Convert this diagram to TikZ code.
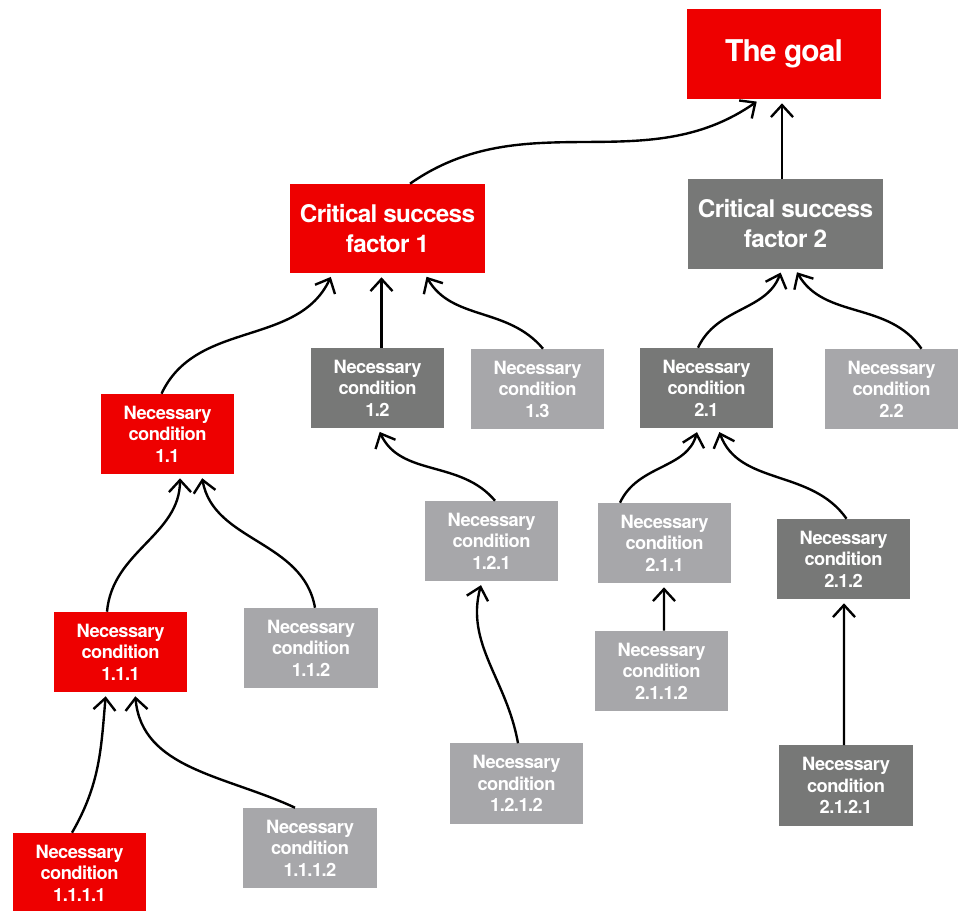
\documentclass[tikz,border=0pt]{standalone}
\usepackage{fontspec}
\setmainfont{TeX Gyre Heros}[LetterSpace=-3]
\usepackage{xcolor}
\definecolor{ncred}{HTML}{EE0000}
\definecolor{ncdark}{HTML}{777877}
\definecolor{nclight}{HTML}{A7A7AA}
\usetikzlibrary{arrows.meta, positioning}
\tikzstyle{cond} = [rectangle, text=white, align=center, inner sep=0pt, minimum width=3.325cm, minimum height=2cm, font=\bfseries\fontsize{13}{15.3}\selectfont]
\tikzstyle{factor} = [cond, minimum width=4.85cm, minimum height=2.225cm, font=\bfseries\fontsize{17.3}{21.3}\selectfont]
\tikzstyle{onpath} = [fill=ncred]
\tikzstyle{dark} = [fill=ncdark]
\tikzstyle{pale} = [fill=nclight]
\tikzstyle{line} = [draw, line width=1.7pt, -{Straight Barb[length=0.3cm,width=0.55cm]}, shorten >=0.1cm]

\begin{document}
\begin{tikzpicture}[x=0.025cm, y=0.025cm]
    \useasboundingbox (0,0) rectangle (961,-911);
    % Place nodes
     \node [factor, onpath, minimum height=2.25cm, font=\bfseries\fontsize{21.3}{25}\selectfont] (goal) at (784,-54) {The goal};
     \node [factor, onpath] (csf1) at (387.5,-228.5) {Critical success\\factor 1};
     \node [factor, dark] (csf2) at (785.5,-224) {Critical success\\factor 2};
     \node [cond, onpath] (nc11) at (167.5,-434) {Necessary\\condition\\1.1};
     \node [cond, dark] (nc12) at (377.5,-388) {Necessary\\condition\\1.2};
     \node [cond, pale] (nc13) at (537.5,-389) {Necessary\\condition\\1.3};
     \node [cond, dark] (nc21) at (706.5,-388) {Necessary\\condition\\2.1};
     \node [cond, pale] (nc22) at (891.5,-389) {Necessary\\condition\\2.2};
     \node [cond, pale] (nc121) at (491.5,-541) {Necessary\\condition\\1.2.1};
     \node [cond, pale] (nc211) at (664.5,-543) {Necessary\\condition\\2.1.1};
     \node [cond, dark] (nc212) at (843.5,-559) {Necessary\\condition\\2.1.2};
     \node [cond, onpath] (nc111) at (120.5,-652) {Necessary\\condition\\1.1.1};
     \node [cond, pale] (nc112) at (311,-648) {Necessary\\condition\\1.1.2};
     \node [cond, pale] (nc2112) at (661.5,-671) {Necessary\\condition\\2.1.1.2};
     \node [cond, pale] (nc1212) at (516.5,-783.5) {Necessary\\condition\\1.2.1.2};
     \node [cond, dark] (nc2121) at (846,-785.5) {Necessary\\condition\\2.1.2.1};
     \node [cond, onpath] (nc1111) at (79.5,-873) {Necessary\\condition\\1.1.1.1};
     \node [cond, pale] (nc1112) at (310,-848) {Necessary\\condition\\1.1.1.2};

    % Connect nodes
     \path [line] ([shift={(22.5,0)}]csf1.north) to[out=35, in=-145] ([shift={(-24,0)}]goal.south);
     \path [line] ([shift={(-3.5,0)}]csf2.north) -- ([shift={(-2,0)}]goal.south);
     \path [line] ([shift={(-6,0)}]nc11.north) to[out=65, in=-115] ([shift={(-55,0)}]csf1.south);
     \path [line] ([shift={(4,0)}]nc12.north) -- ([shift={(-6,0)}]csf1.south);
     \path [line] ([shift={(5.5,0)}]nc13.north) to[out=130, in=-60] ([shift={(37,0)}]csf1.south);
     \path [line] ([shift={(-8.5,0)}]nc21.north) to[out=65, in=-110] ([shift={(-3.5,0)}]csf2.south);
     \path [line] ([shift={(30,0)}]nc22.north) to[out=125, in=-60] ([shift={(9.5,0)}]csf2.south);
     \path [line] ([shift={(3.5,0)}]nc121.north) to[out=130, in=-65] ([shift={(0.5,0)}]nc12.south);
     \path [line] ([shift={(1.5,0)}]nc1212.north) to[out=100, in=-105] ([shift={(-9.5,0)}]nc121.south);
     \path [line] ([shift={(-44.5,0)}]nc211.north) to[out=65, in=-105] ([shift={(-8.5,0)}]nc21.south);
     \path [line] ([shift={(3,0)}]nc212.north) to[out=125, in=-70] ([shift={(11.5,0)}]nc21.south);
     \path [line] ([shift={(2.5,0)}]nc2112.north) -- ([shift={(-0.5,0)}]nc211.south);
     \path [line] ([shift={(-2,0)}]nc2121.north) -- ([shift={(0.5,0)}]nc212.south);
     \path [line] ([shift={(-13.5,0)}]nc111.north) to[out=85, in=-90] ([shift={(12.5,0)}]nc11.south);
     \path [line] ([shift={(4,0)}]nc112.north) to[out=100, in=-80] ([shift={(34,0)}]nc11.south);
     \path [line] ([shift={(-7.5,0)}]nc1111.north) to[out=60, in=-95] ([shift={(-14.5,0)}]nc111.south);
     \path [line] ([shift={(-15,0)}]nc1112.north) to[out=155, in=-85] ([shift={(14.5,0)}]nc111.south);

\end{tikzpicture}
\end{document}
